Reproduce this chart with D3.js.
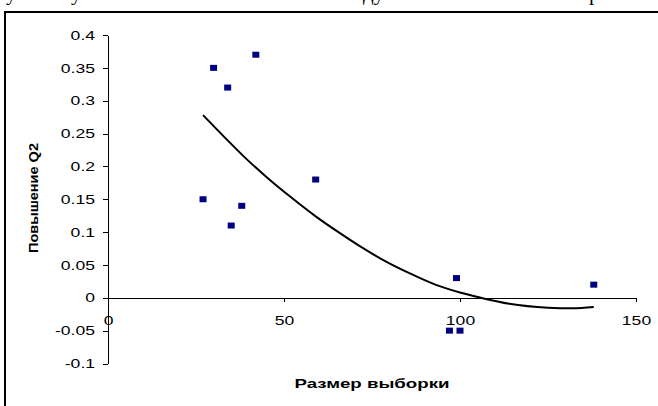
<!DOCTYPE html>
<html lang="ru">
<head>
    <meta charset="UTF-8">
    <title>Повышение Q2 vs Размер выборки</title>
    <style>
        body { margin: 0; background: #fff; }
        svg { display: block; }
        .tick text { font-family: "Liberation Sans", Arial, sans-serif; font-size: 13px; fill: #000; }
        .axis path, .axis line { stroke: #000; stroke-width: 1; shape-rendering: crispEdges; }
        .title { font-family: "Liberation Sans", Arial, sans-serif; font-size: 13px; font-weight: bold; fill: #000; }
        .doc { font-family: "Liberation Serif", "Times New Roman", serif; font-size: 21px; fill: #000; }
    </style>
</head>
<body>
<svg width="658" height="406"></svg>
<script src="https://d3js.org/d3.v7.min.js"></script>
<script>
    // sample size vs Q2 increase
    const sampleSize = [27, 30, 34, 35, 38, 42, 59, 97, 99, 100, 138];
    const q2Gain = [0.15, 0.35, 0.32, 0.11, 0.14, 0.37, 0.18, -0.05, 0.03, -0.05, 0.02];

    // trend curve as drawn in the original
    const trendX = [27, 33, 39, 45, 52, 59, 66, 72, 79, 87, 93, 100, 106, 114, 125, 132, 138];
    const trendY = [0.278, 0.245, 0.213, 0.184, 0.153, 0.124, 0.098, 0.077, 0.055, 0.034, 0.020, 0.008, 0.000, -0.009, -0.015, -0.016, -0.014];

    const xTicks = [0, 50, 100, 150];
    const yTicks = [-0.1, -0.05, 0, 0.05, 0.1, 0.15, 0.2, 0.25, 0.3, 0.35, 0.4];

    const svg = d3.select("svg");
    const stretch = 1.35; // original picture is wider than tall

    function widen(sel, factor) {
        sel.each(function () {
            const len = this.getComputedTextLength();
            d3.select(this).attr("textLength", len * factor).attr("lengthAdjust", "spacingAndGlyphs");
        });
    }

    // bits of the document line cut off above the chart
    const docBits = [["у", 6], ["у", 71], ["ду", 363], ["р", 589]];
    svg.selectAll(".doc").data(docBits).enter().append("text")
        .attr("class", "doc")
        .attr("x", d => d[1])
        .attr("y", 0)
        .text(d => d[0]);

    // chart frame
    svg.append("rect")
        .attr("x", 5).attr("y", 12)
        .attr("width", 700).attr("height", 500)
        .attr("fill", "none").attr("stroke", "#000").attr("stroke-width", 2);

    const x = d3.scaleLinear().domain([0, 150]).range([108, 636]);
    const y = d3.scaleLinear().domain([-0.1, 0.4]).range([363.5, 35]);

    const yAxis = svg.append("g")
        .attr("class", "axis")
        .attr("transform", `translate(${x(0)},0)`)
        .call(d3.axisLeft(y).tickValues(yTicks).tickSize(5).tickSizeOuter(0).tickPadding(8).tickFormat(d => String(+d.toFixed(2))));

    const xAxis = svg.append("g")
        .attr("class", "axis")
        .attr("transform", `translate(0,${y(0)})`)
        .call(d3.axisBottom(x).tickValues(xTicks).tickSize(4).tickSizeOuter(0).tickPadding(14));

    widen(yAxis.selectAll("text"), stretch);
    widen(xAxis.selectAll("text"), stretch);

    // trend line
    const line = d3.line()
        .x((d, i) => x(trendX[i]))
        .y((d, i) => y(trendY[i]))
        .curve(d3.curveMonotoneX);
    svg.append("path")
        .attr("d", line(trendX))
        .attr("fill", "none")
        .attr("stroke", "#000")
        .attr("stroke-width", 2);

    // markers
    svg.append("g").selectAll("rect")
        .data(sampleSize)
        .enter().append("rect")
        .attr("x", (d, i) => x(d) - 3.5)
        .attr("y", (d, i) => y(q2Gain[i]) - 3)
        .attr("width", 7)
        .attr("height", 6)
        .attr("fill", "#000080");

    // axis titles
    svg.append("text")
        .attr("class", "title")
        .attr("x", 372).attr("y", 388)
        .attr("text-anchor", "middle")
        .attr("textLength", 155).attr("lengthAdjust", "spacingAndGlyphs")
        .text("Размер выборки");

    svg.append("text")
        .attr("class", "title")
        .attr("transform", "translate(38,198) rotate(-90)")
        .attr("text-anchor", "middle")
        .attr("textLength", 110).attr("lengthAdjust", "spacingAndGlyphs")
        .text("Повышение Q2");
</script>
</body>
</html>
